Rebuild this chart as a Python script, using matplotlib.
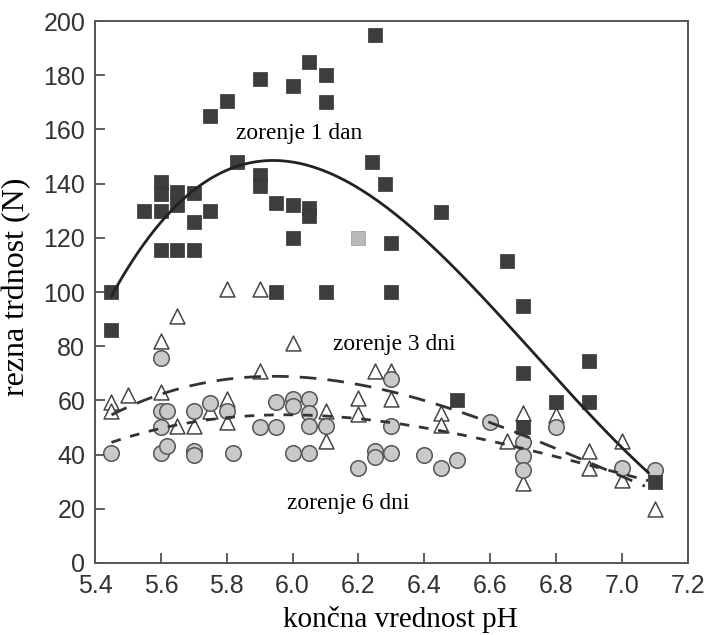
import numpy as np
import matplotlib
matplotlib.use("Agg")
import matplotlib.pyplot as plt

# zorenje 1 dan (kvadrati)
ph_1 = [5.45, 5.45, 5.55, 5.6, 5.6, 5.6, 5.6, 5.65, 5.65, 5.65, 5.7, 5.7, 5.7,
        5.75, 5.75, 5.8, 5.83, 5.9, 5.9, 5.9, 5.95, 5.95, 6.0, 6.0, 6.0, 6.05,
        6.05, 6.05, 6.1, 6.1, 6.1, 6.25, 6.24, 6.28, 6.3, 6.3, 6.45, 6.5, 6.65,
        6.7, 6.7, 6.7, 6.8, 6.9, 6.9, 7.1]
n_1 = [100, 86, 130, 140.5, 136, 130, 115.5, 137, 132, 115.5, 136.5, 126, 115.5,
       165, 130, 170.5, 148, 178.5, 143, 139, 133, 100, 176, 132, 120, 185,
       131, 128, 180, 170, 100, 195, 148, 140, 118, 100, 129.5, 60, 111.5,
       95, 70, 50, 59.5, 74.5, 59.5, 30]
ph_1_siv = [6.2]
n_1_siv = [120]

# zorenje 3 dni (trikotniki)
ph_3 = [5.45, 5.45, 5.5, 5.6, 5.6, 5.65, 5.65, 5.7, 5.75, 5.8, 5.8, 5.8, 5.9,
        5.9, 6.0, 6.1, 6.1, 6.2, 6.2, 6.25, 6.3, 6.3, 6.45, 6.45, 6.65, 6.7,
        6.7, 6.8, 6.9, 6.9, 7.0, 7.0, 7.1]
n_3 = [59.5, 56, 62, 82, 63, 91, 50.5, 50.5, 56, 101, 60.5, 52, 101,
       71, 81, 56, 45, 61, 55, 71, 71, 60.5, 55.5, 51, 45, 55.5,
       29.5, 54.5, 41.5, 35, 45, 30.5, 20]

# zorenje 6 dni (krogi)
ph_6 = [5.45, 5.6, 5.6, 5.62, 5.6, 5.6, 5.62, 5.7, 5.7, 5.7, 5.75, 5.8, 5.82,
        5.9, 5.95, 5.95, 6.0, 6.0, 6.0, 6.05, 6.05, 6.05, 6.05, 6.1, 6.2, 6.25,
        6.25, 6.3, 6.3, 6.3, 6.4, 6.45, 6.5, 6.6, 6.7, 6.7, 6.7, 6.8, 7.0, 7.1]
n_6 = [40.5, 75.5, 56, 56, 50, 40.5, 43, 56, 41.5, 40, 59, 56, 40.5,
       50, 59.5, 50, 60.5, 58, 40.5, 60.5, 55.5, 50.5, 40.5, 50.5, 35, 41.5,
       39, 68, 50.5, 40.5, 40, 35, 38, 52, 44.5, 39.5, 34.5, 50, 35, 34.5]

# odcitane tocke krivulj
krivulja_1_x = [5.45, 5.54, 5.64, 5.73, 5.83, 5.96, 6.09, 6.19, 6.29, 6.39, 6.53,
                6.57, 6.72, 6.87, 6.97, 7.08]
krivulja_1_y = [100, 115, 129, 141, 147, 148.7, 146, 140, 130, 120, 104,
                98, 78.6, 60, 48, 32]
krivulja_3_x = [5.45, 5.55, 5.6, 5.72, 5.82, 5.95, 6.1, 6.25, 6.35, 6.57, 6.72,
                6.84, 6.97, 7.07]
krivulja_3_y = [55, 59.5, 62, 66.4, 68.6, 69, 67.5, 64.6, 61.5, 53, 46.5,
                40, 34, 28]
krivulja_6_x = [5.45, 5.52, 5.58, 5.67, 5.74, 5.86, 5.97, 6.14, 6.26, 6.38, 6.47,
                6.6, 6.77, 6.9, 7.02, 7.08]
krivulja_6_y = [44, 47, 49, 51.7, 53.5, 55, 55, 53.5, 51.7, 49.5, 47.5,
                45, 41.5, 37.5, 32.5, 29]

fig = plt.figure(figsize=(7.09, 6.35), dpi=100)
ax = fig.add_axes([0.134, 0.1134, 0.836, 0.8535])

ax.scatter(ph_3, n_3, marker='^', s=115, facecolors='white',
           edgecolors='#444444', linewidths=1.1, zorder=3)
ax.scatter(ph_6, n_6, marker='o', s=125, facecolors='#c9c9c9',
           edgecolors='#555555', linewidths=1.1, zorder=4)
ax.scatter(ph_1, n_1, marker='s', s=95, facecolors='#3d3d3d',
           edgecolors='#333333', linewidths=0.5, zorder=5)
ax.scatter(ph_1_siv, n_1_siv, marker='s', s=95, facecolors='#b8b8b8',
           edgecolors='#999999', linewidths=0.5, zorder=5)

def gladko(xs, ys, stopnja):
    k = np.polyfit(xs, ys, stopnja)
    xx = np.linspace(xs[0], xs[-1], 200)
    return xx, np.polyval(k, xx)

xx, yy = gladko(krivulja_1_x, krivulja_1_y, 4)
ax.plot(xx, yy, '-', color='#222222', linewidth=2.0, zorder=6)
xx, yy = gladko(krivulja_3_x, krivulja_3_y, 3)
ax.plot(xx, yy, color='#333333', linewidth=2.0, dashes=(6, 4), zorder=6)
xx, yy = gladko(krivulja_6_x, krivulja_6_y, 3)
ax.plot(xx, yy, color='#333333', linewidth=2.0, dashes=(3.5, 3.5), zorder=6)

serif = ['Liberation Serif', 'DejaVu Serif']
ax.text(6.02, 158.5, 'zorenje 1 dan', family=serif, fontsize=16.8,
        ha='center', va='center')
ax.text(6.31, 80.5, 'zorenje 3 dni', family=serif, fontsize=16.8,
        ha='center', va='center')
ax.text(6.17, 22, 'zorenje 6 dni', family=serif, fontsize=16.8,
        ha='center', va='center')

ax.set_xlim(5.4, 7.2)
ax.set_ylim(0, 200)
ax.set_xticks(np.arange(5.4, 7.21, 0.2))
ax.set_xticklabels(['5.4', '5.6', '5.8', '6.0', '6.2', '6.4', '6.6', '6.8', '7.0', '7.2'])
ax.set_yticks(np.arange(0, 201, 20))
ax.tick_params(direction='in', length=7, width=1.2, colors='#444444',
               labelcolor='#333333', labelsize=18)
ax.tick_params(axis='x', pad=8)
ax.tick_params(axis='y', pad=7)
for lab in ax.get_xticklabels() + ax.get_yticklabels():
    lab.set_family(['Liberation Sans', 'DejaVu Sans'])
for sp in ax.spines.values():
    sp.set_color('#555555')
    sp.set_linewidth(1.4)

ax.set_xlabel('končna vrednost pH', family=serif, fontsize=21)
ax.set_ylabel('rezna trdnost (N)', family=serif, fontsize=23)
ax.xaxis.set_label_coords(0.515, -0.08)
ax.yaxis.set_label_coords(-0.108, 0.51)

fig.savefig('out.png', dpi=100)
